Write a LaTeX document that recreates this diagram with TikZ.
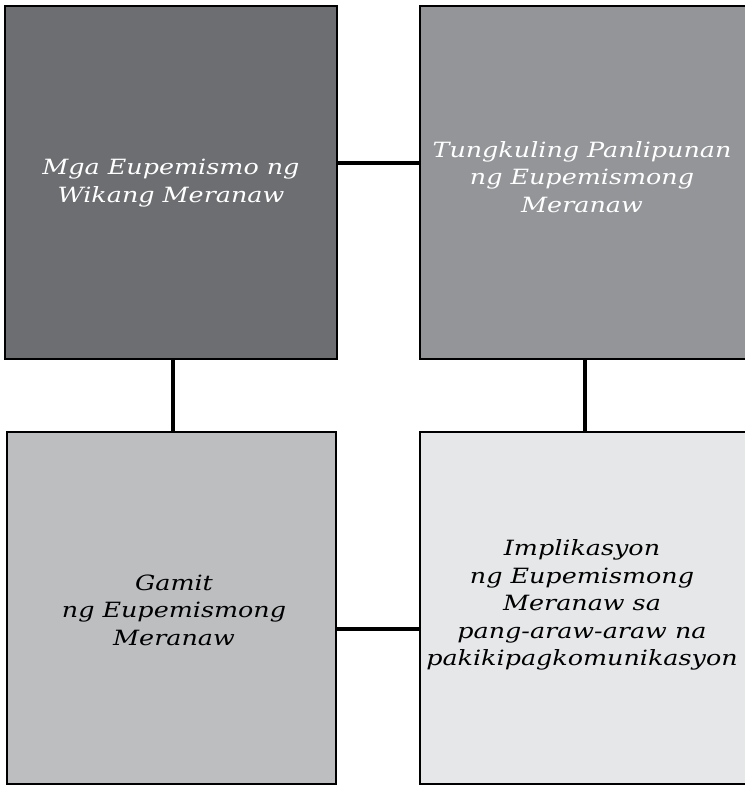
\documentclass[tikz,border=0pt]{standalone}
\usepackage{fontspec}
\setmainfont{DejaVu Serif}[FakeStretch=1.21]
\definecolor{gA}{HTML}{6D6E71}
\definecolor{gB}{HTML}{939598}
\definecolor{gC}{HTML}{BCBEC0}
\definecolor{gD}{HTML}{E6E7E8}
\begin{document}
\begin{tikzpicture}[x=1pt,y=-1pt,
  box/.style={draw=black,line width=2.5pt,inner sep=0pt,outer sep=0pt},
  lbl/.style={align=center,font=\fontsize{21}{27.5}\selectfont\itshape},
  link/.style={line width=4.5pt,black}]
\useasboundingbox (0,0) rectangle (744,786);
\fill[white] (0,0) rectangle (744,786);
\draw[box,fill=gA] (5,6) rectangle (337,359) ;
\draw[box,fill=gB] (420,6) rectangle (750,359);
\draw[box,fill=gC] (7,432) rectangle (336,784);
\draw[box,fill=gD] (420,432) rectangle (750,784);
\coordinate (TLr) at (337,163);
\coordinate (TRl) at (420,163);
\coordinate (TLb) at (173,359);
\coordinate (BLt) at (173,432);
\coordinate (TRb) at (585,359);
\coordinate (BRt) at (585,432);
\coordinate (BLr) at (336,629);
\coordinate (BRl) at (420,629);
\draw[link] (TLr) -- (TRl);
\draw[link] (TLb) -- (BLt);
\draw[link] (TRb) -- (BRt);
\draw[link] (BLr) -- (BRl);
\node[lbl,text=white] (tl) at (171,183) {Mga Eupemismo ng\\Wikang Meranaw};
\node[lbl,text=white] (tr) at (582,177) {Tungkuling Panlipunan\\ng Eupemismong\\Meranaw};
\node[lbl,text=black] (bl) at (174,610) {Gamit\\ng Eupemismong\\Meranaw};
\node[lbl,text=black] (br) at (582,605) {Implikasyon\\ng Eupemismong\\Meranaw sa\\pang-araw-araw na\\pakikipagkomunikasyon};
\end{tikzpicture}
\end{document}
